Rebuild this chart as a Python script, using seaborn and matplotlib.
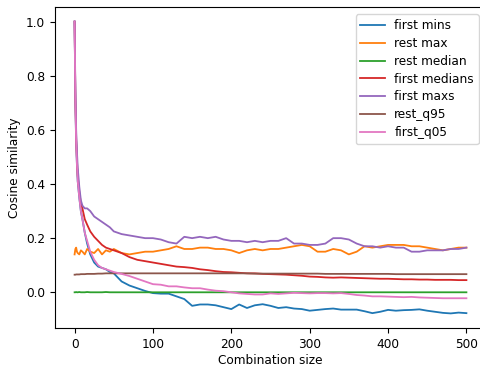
import matplotlib
matplotlib.use("Agg")
import matplotlib.pyplot as plt
import seaborn as sns
import pandas as pd

x = [0, 1, 2, 3, 4, 6, 8, 10, 13, 16, 20, 25, 30, 35, 40, 45, 50,
     60, 70, 80, 90, 100, 110, 120, 130, 140, 150, 160, 170, 180, 190, 200,
     210, 220, 230, 240, 250, 260, 270, 280, 290, 300, 310, 320, 330, 340,
     350, 360, 370, 380, 390, 400, 410, 420, 430, 440, 450, 460, 470, 480,
     490, 500]

first_mins = [1.0, 0.70, 0.55, 0.47, 0.41, 0.35, 0.30, 0.27, 0.22, 0.18, 0.14, 0.11, 0.095, 0.09, 0.085, 0.075, 0.07,
              0.04, 0.025, 0.015, 0.005, -0.003, -0.005, -0.005, -0.015, -0.025, -0.05, -0.045, -0.045, -0.048, -0.055, -0.062,
              -0.045, -0.058, -0.048, -0.044, -0.05, -0.058, -0.055, -0.06, -0.062, -0.068, -0.065, -0.062, -0.06, -0.064,
              -0.064, -0.064, -0.07, -0.077, -0.072, -0.065, -0.068, -0.066, -0.065, -0.063, -0.068, -0.072, -0.076, -0.078,
              -0.075, -0.077]

rest_max = [0.14, 0.16, 0.165, 0.15, 0.145, 0.14, 0.155, 0.15, 0.14, 0.16, 0.15, 0.145, 0.16, 0.14, 0.155, 0.15, 0.16,
            0.145, 0.14, 0.145, 0.15, 0.15, 0.155, 0.16, 0.17, 0.16, 0.16, 0.165, 0.165, 0.16, 0.16, 0.155,
            0.145, 0.155, 0.16, 0.155, 0.16, 0.16, 0.165, 0.17, 0.175, 0.17, 0.15, 0.15, 0.16, 0.155,
            0.14, 0.15, 0.17, 0.165, 0.17, 0.175, 0.175, 0.175, 0.17, 0.17, 0.165, 0.16, 0.155, 0.16,
            0.165, 0.165]

rest_median = [0.0, 0.0, 0.001, 0.0, 0.0, 0.001, 0.0, 0.0, 0.0, 0.001, 0.0, 0.0, 0.0, 0.0, 0.001, 0.0, 0.0,
               0.0, 0.0, 0.0, 0.0, 0.0, 0.0, 0.0, 0.0, 0.0, 0.0, 0.0, 0.0, 0.0, 0.0, 0.0,
               0.0, 0.0, 0.0, 0.0, 0.0, 0.0, 0.0, 0.0, 0.0, 0.0, 0.0, 0.0, 0.0, 0.0,
               0.0, 0.0, 0.0, 0.0, 0.0, 0.0, 0.0, 0.0, 0.0, 0.0, 0.0, 0.0, 0.0, 0.0,
               0.0, 0.0]

first_medians = [1.0, 0.72, 0.57, 0.49, 0.43, 0.37, 0.33, 0.31, 0.27, 0.25, 0.225, 0.205, 0.19, 0.175, 0.165, 0.16, 0.155,
                 0.145, 0.13, 0.12, 0.115, 0.11, 0.105, 0.10, 0.095, 0.093, 0.09, 0.085, 0.082, 0.078, 0.075, 0.074,
                 0.072, 0.07, 0.07, 0.068, 0.067, 0.066, 0.065, 0.063, 0.061, 0.058, 0.057, 0.055, 0.054, 0.055,
                 0.054, 0.053, 0.052, 0.051, 0.05, 0.05, 0.049, 0.048, 0.048, 0.047, 0.047, 0.046, 0.046, 0.046,
                 0.045, 0.045]

first_maxs = [1.0, 0.75, 0.60, 0.52, 0.46, 0.39, 0.34, 0.32, 0.31, 0.31, 0.30, 0.28, 0.27, 0.26, 0.25, 0.24, 0.225,
              0.215, 0.21, 0.205, 0.20, 0.20, 0.195, 0.185, 0.18, 0.205, 0.20, 0.205, 0.20, 0.205, 0.195, 0.19,
              0.19, 0.185, 0.19, 0.185, 0.19, 0.19, 0.20, 0.18, 0.18, 0.175, 0.175, 0.18, 0.20, 0.20,
              0.195, 0.18, 0.17, 0.17, 0.165, 0.17, 0.165, 0.165, 0.15, 0.15, 0.155, 0.155, 0.155, 0.16,
              0.16, 0.165]

rest_q95 = [0.065, 0.065, 0.066, 0.066, 0.066, 0.066, 0.067, 0.067, 0.067, 0.068, 0.068, 0.068, 0.069, 0.069, 0.07, 0.07, 0.07,
            0.07, 0.07, 0.07, 0.07, 0.07, 0.07, 0.07, 0.07, 0.07, 0.07, 0.07, 0.07, 0.07, 0.07, 0.07,
            0.07, 0.07, 0.069, 0.069, 0.069, 0.069, 0.069, 0.069, 0.069, 0.069, 0.069, 0.068, 0.068, 0.068,
            0.068, 0.068, 0.068, 0.068, 0.068, 0.068, 0.067, 0.067, 0.067, 0.067, 0.067, 0.067, 0.067, 0.067,
            0.067, 0.067]

first_q05 = [1.0, 0.70, 0.55, 0.47, 0.41, 0.35, 0.30, 0.27, 0.22, 0.19, 0.15, 0.12, 0.10, 0.09, 0.085, 0.08, 0.075,
             0.068, 0.06, 0.05, 0.04, 0.03, 0.028, 0.022, 0.022, 0.018, 0.015, 0.015, 0.01, 0.006, 0.004, 0.0,
             -0.004, -0.006, -0.008, -0.008, -0.004, -0.006, -0.004, -0.002, -0.003, -0.004, -0.003, -0.003, -0.004, -0.003,
             -0.006, -0.01, -0.012, -0.015, -0.015, -0.016, -0.017, -0.018, -0.017, -0.019, -0.02, -0.021, -0.022, -0.022,
             -0.022, -0.022]

series = [
    ("first mins", first_mins),
    ("rest max", rest_max),
    ("rest median", rest_median),
    ("first medians", first_medians),
    ("first maxs", first_maxs),
    ("rest_q95", rest_q95),
    ("first_q05", first_q05),
]

plt.rcParams["font.family"] = ["DejaVu Sans"]
plt.rcParams["font.size"] = 8.7

fig = plt.figure(figsize=(4.81, 3.67), dpi=100)
ax = fig.add_axes([55 / 481, 1 - 328 / 367, (486 - 55) / 481, (328 - 7) / 367])

palette = sns.color_palette("tab10")
for i, (name, vals) in enumerate(series):
    df = pd.DataFrame({"x": x, "y": vals})
    sns.lineplot(data=df, x="x", y="y", ax=ax, color=palette[i], label=name, linewidth=1.3)

ax.set_xlabel("Combination size", labelpad=2)
ax.set_ylabel("Cosine similarity")
ax.set_xticks([0, 100, 200, 300, 400, 500])
ax.set_yticks([0.0, 0.2, 0.4, 0.6, 0.8, 1.0])
ax.legend(loc="upper right", labelspacing=0.4, borderaxespad=0.6)

fig.savefig("out.png", dpi=100)
